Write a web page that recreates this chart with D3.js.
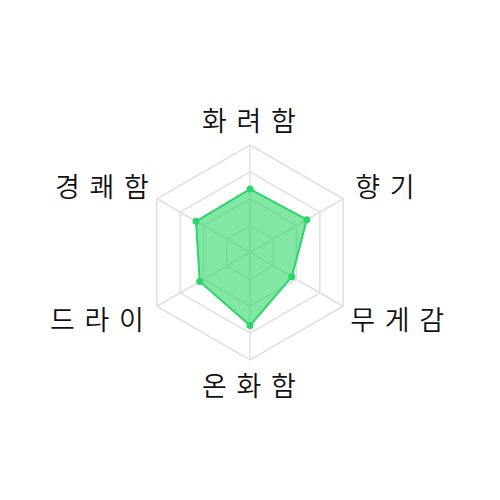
<!DOCTYPE html>
<html><head><meta charset="utf-8">
<script src="https://cdn.jsdelivr.net/npm/d3@7"></script>
<style>html,body{margin:0;padding:0;background:#fff;}</style>
</head><body>
<svg id="chart" width="500" height="500"></svg>
<script>
const categories = ["화 려 함", "향 기", "무 게 감", "온 화 함", "드 라 이", "경 쾌 함"];
const values = [59, 61, 45, 68, 54, 58];
const maxValue = 100;
const levels = 4;

const svg = d3.select("#chart");
const cx = 250, cy = 252.5, R = 107.5;
const n = categories.length;
const angle = d3.scaleLinear().domain([0, n]).range([0, 2 * Math.PI]);
const r = d3.scaleLinear().domain([0, maxValue]).range([0, R]);
const pt = (i, rad) => [cx + rad * Math.sin(angle(i)), cy - rad * Math.cos(angle(i))];

const g = svg.append("g");
d3.range(1, levels + 1).forEach(l => {
  const rad = r(maxValue * l / levels);
  g.append("polygon")
    .attr("points", d3.range(n).map(i => pt(i, rad).join(",")).join(" "))
    .attr("fill", "none").attr("stroke", "#e0e0e0").attr("stroke-width", 1.5);
});
d3.range(n).forEach(i => {
  const p = pt(i, R);
  g.append("line").attr("x1", cx).attr("y1", cy).attr("x2", p[0]).attr("y2", p[1])
    .attr("stroke", "#e0e0e0").attr("stroke-width", 1.5);
});
const line = d3.lineRadial().angle((d, i) => angle(i)).radius(d => r(d)).curve(d3.curveLinearClosed);
g.append("path").attr("transform", `translate(${cx},${cy})`)
  .attr("d", line(values))
  .attr("fill", "rgba(40,212,100,0.58)")
  .attr("stroke", "#2bd66a").attr("stroke-width", 2).attr("stroke-linejoin", "round");
g.selectAll("circle.dot").data(values).join("circle")
  .attr("class", "dot")
  .attr("cx", (d, i) => pt(i, r(d))[0])
  .attr("cy", (d, i) => pt(i, r(d))[1])
  .attr("r", 3.5).attr("fill", "#2bd66a");
const fs = 27, ls = 1.8;
categories.forEach((c, i) => {
  const s = Math.sin(angle(i)), co = Math.cos(angle(i));
  const anchor = Math.abs(s) < 0.01 ? "middle" : (s > 0 ? "start" : "end");
  let x = cx + (R + 14) * s + (anchor === "end" ? ls + 4 : anchor === "middle" ? ls / 2 - 1 : 0);
  if (anchor !== "middle" && co < 0) x -= 5;
  const yc = cy - (R + 25) * co + 1.5;
  svg.append("text")
    .attr("x", x).attr("y", yc + fs * 0.36)
    .attr("text-anchor", anchor)
    .attr("font-family", "'Noto Sans CJK KR', 'Noto Sans', sans-serif")
    .attr("font-weight", 350)
    .attr("font-size", fs).attr("fill", "#111")
    .attr("letter-spacing", ls)
    .attr("xml:space", "preserve")
    .style("white-space", "pre")
    .text(c);
});
</script>
</body></html>
